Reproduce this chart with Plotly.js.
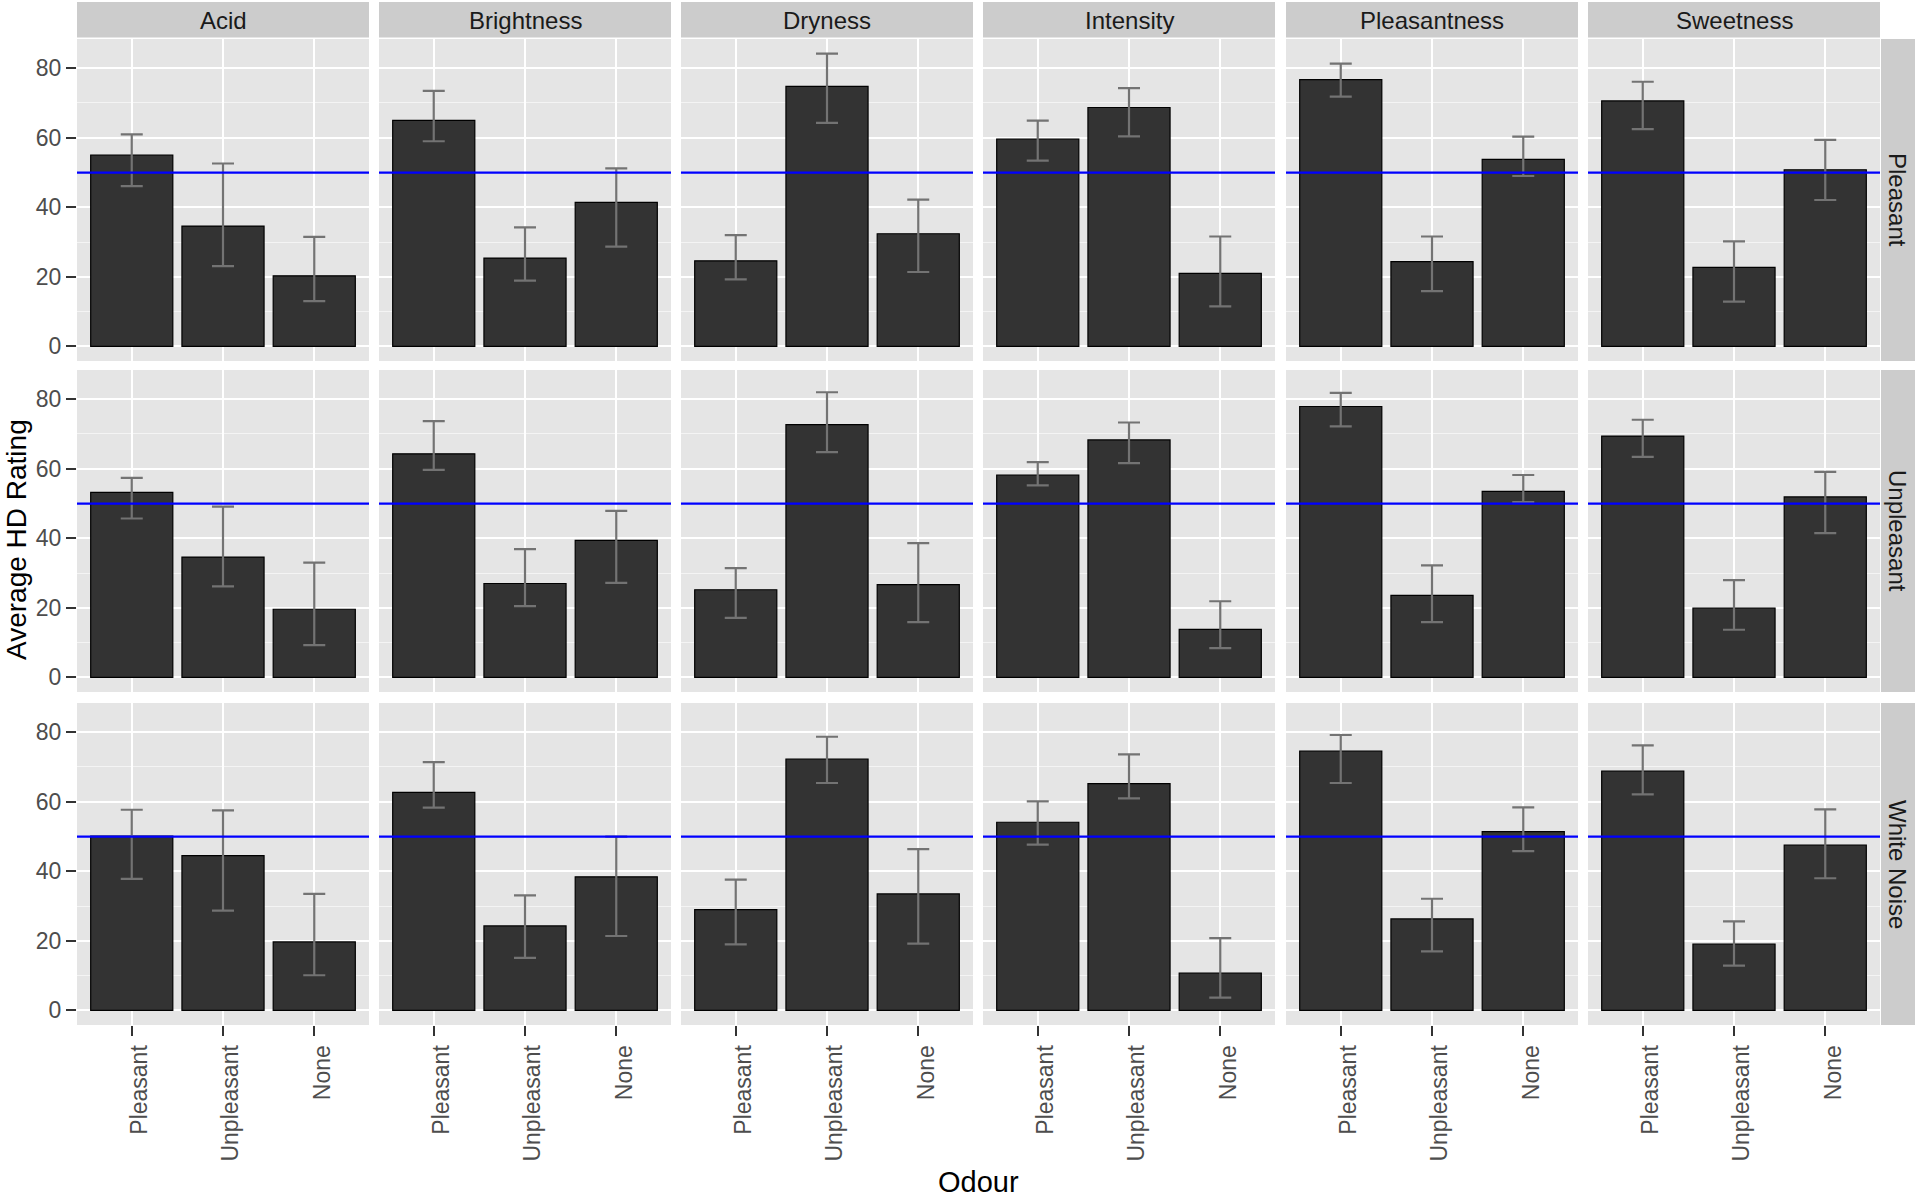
<!DOCTYPE html>
<html>
<head>
<meta charset="utf-8">
<script src="https://cdn.plot.ly/plotly-3.0.1.min.js"></script>
<style>
  html, body { margin: 0; padding: 0; background: white; }
  #plot { width: 1918px; height: 1198px; }
</style>
</head>
<body>
<div id="plot"></div>
<script>
const attributes = ["Acid", "Brightness", "Dryness", "Intensity", "Pleasantness", "Sweetness"];
const sounds = ["Pleasant", "Unpleasant", "White Noise"];
const odours = ["Pleasant", "Unpleasant", "None"];

// mean rating per attribute, one triplet per odour (Pleasant, Unpleasant, None)
const meanPleasantSound = [
  [55.0, 34.6, 20.3], [65.0, 25.4, 41.4], [24.6, 74.8, 32.4],
  [59.6, 68.7, 21.0], [76.7, 24.4, 53.8], [70.6, 22.7, 50.8]
];
const lowPleasantSound = [
  [46.1, 23.1, 13.0], [59.0, 18.9, 28.7], [19.3, 64.3, 21.4],
  [53.4, 60.4, 11.5], [71.8, 15.9, 49.0], [62.5, 12.9, 42.1]
];
const highPleasantSound = [
  [61.0, 52.6, 31.5], [73.5, 34.2, 51.2], [32.0, 84.2, 42.2],
  [64.9, 74.3, 31.6], [81.3, 31.6, 60.3], [76.1, 30.2, 59.4]
];

const meanUnpleasantSound = [
  [53.2, 34.6, 19.6], [64.3, 27.0, 39.4], [25.2, 72.7, 26.7],
  [58.2, 68.3, 13.8], [77.9, 23.6, 53.5], [69.4, 19.9, 51.9]
];
const lowUnpleasantSound = [
  [45.7, 26.2, 9.3], [59.7, 20.5, 27.2], [17.1, 64.8, 15.9],
  [55.2, 61.6, 8.4], [72.2, 15.9, 50.4], [63.4, 13.7, 41.5]
];
const highUnpleasantSound = [
  [57.4, 49.1, 33.0], [73.7, 36.9, 47.9], [31.4, 82.0, 38.6],
  [61.9, 73.3, 21.9], [81.8, 32.2, 58.2], [74.1, 28.0, 59.1]
];

const meanWhiteNoise = [
  [50.1, 44.5, 19.7], [62.7, 24.3, 38.4], [29.0, 72.3, 33.5],
  [54.1, 65.2, 10.7], [74.6, 26.3, 51.4], [68.8, 19.1, 47.5]
];
const lowWhiteNoise = [
  [37.8, 28.7, 10.1], [58.3, 15.1, 21.4], [19.0, 65.4, 19.2],
  [47.7, 61.0, 3.7], [65.4, 17.0, 45.8], [62.1, 12.9, 38.0]
];
const highWhiteNoise = [
  [57.7, 57.5, 33.5], [71.4, 33.1, 50.0], [37.6, 78.7, 46.4],
  [60.1, 73.6, 20.8], [79.2, 32.1, 58.4], [76.2, 25.6, 57.8]
];

const refLine = 50;

const means = [meanPleasantSound, meanUnpleasantSound, meanWhiteNoise];
const lows = [lowPleasantSound, lowUnpleasantSound, lowWhiteNoise];
const highs = [highPleasantSound, highUnpleasantSound, highWhiteNoise];

const W = 1918, H = 1198;
const fx = (px) => px / W;
const fy = (py) => 1 - py / H;

// panel geometry in pixels
const colLeft = [77, 379, 681, 983, 1286, 1588];
const colWidth = 292;
const rowTop = [39, 370, 703];
const rowHeight = 322;

const FONT = "Liberation Sans, Arial, sans-serif";

const traces = [];
const layout = {
  width: W,
  height: H,
  autosize: false,
  margin: { l: 0, r: 0, t: 0, b: 0 },
  paper_bgcolor: "white",
  plot_bgcolor: "#e5e5e5",
  showlegend: false,
  font: { family: FONT, size: 23, color: "#4d4d4d" },
  shapes: [],
  annotations: [],
};

for (let r = 0; r < sounds.length; r++) {
  for (let c = 0; c < attributes.length; c++) {
    const n = r * attributes.length + c + 1;
    const xa = "x" + (n === 1 ? "" : n);
    const ya = "y" + (n === 1 ? "" : n);
    const m = means[r][c];
    const lo = lows[r][c];
    const hi = highs[r][c];

    traces.push({
      type: "bar",
      x: odours,
      y: m,
      width: 0.9,
      xaxis: xa,
      yaxis: ya,
      marker: { color: "#333333", line: { color: "black", width: 1.2 } },
      error_y: {
        type: "data",
        symmetric: false,
        array: hi.map((v, i) => v - m[i]),
        arrayminus: m.map((v, i) => v - lo[i]),
        color: "#737373",
        thickness: 2.2,
        width: 11,
      },
      hoverinfo: "y",
    });

    const bottomRow = r === sounds.length - 1;
    const firstCol = c === 0;

    layout["xaxis" + (n === 1 ? "" : n)] = {
      domain: [fx(colLeft[c]), fx(colLeft[c] + colWidth)],
      anchor: ya,
      type: "category",
      categoryorder: "array",
      categoryarray: odours,
      range: [-0.6, 2.6],
      showgrid: true,
      gridcolor: "white",
      gridwidth: 2,
      zeroline: false,
      showline: false,
      showticklabels: bottomRow,
      ticks: bottomRow ? "outside" : "",
      ticklen: 10,
      tickwidth: 2,
      tickcolor: "#333333",
      tickangle: -90,
      ticklabelshift: 8,
      tickfont: { family: FONT, size: 23, color: "#4d4d4d" },
      fixedrange: true,
    };

    layout["yaxis" + (n === 1 ? "" : n)] = {
      domain: [fy(rowTop[r] + rowHeight), fy(rowTop[r])],
      anchor: xa,
      range: [-4.2, 88.4],
      tick0: 0,
      dtick: 20,
      showgrid: true,
      gridcolor: "white",
      gridwidth: 2,
      minor: { dtick: 10, tick0: 0, showgrid: true, gridcolor: "#f4f4f4", gridwidth: 1, ticks: "" },
      zeroline: false,
      showline: false,
      showticklabels: firstCol,
      ticks: firstCol ? "outside" : "",
      ticklen: 10,
      tickwidth: 2,
      tickcolor: "#333333",
      tickfont: { family: FONT, size: 23, color: "#4d4d4d" },
      fixedrange: true,
    };

    // reference line at 50
    layout.shapes.push({
      type: "line",
      xref: xa + " domain",
      yref: ya,
      x0: 0,
      x1: 1,
      y0: refLine,
      y1: refLine,
      line: { color: "#0000ff", width: 2.2 },
      layer: "above",
    });
  }
}

// column strips
for (let c = 0; c < attributes.length; c++) {
  layout.shapes.push({
    type: "rect",
    xref: "paper",
    yref: "paper",
    x0: fx(colLeft[c]),
    x1: fx(colLeft[c] + colWidth),
    y0: fy(37.5),
    y1: fy(2),
    fillcolor: "#cccccc",
    line: { width: 0 },
    layer: "below",
  });
  layout.annotations.push({
    xref: "paper",
    yref: "paper",
    x: fx(colLeft[c] + colWidth / 2),
    y: fy(20),
    text: attributes[c],
    showarrow: false,
    xanchor: "center",
    yanchor: "middle",
    font: { family: FONT, size: 24, color: "#1a1a1a" },
  });
}

// row strips
for (let r = 0; r < sounds.length; r++) {
  layout.shapes.push({
    type: "rect",
    xref: "paper",
    yref: "paper",
    x0: fx(1881),
    x1: fx(1915),
    y0: fy(rowTop[r] + rowHeight),
    y1: fy(rowTop[r]),
    fillcolor: "#cccccc",
    line: { width: 0 },
    layer: "below",
  });
  layout.annotations.push({
    xref: "paper",
    yref: "paper",
    x: fx(1898),
    y: fy(rowTop[r] + rowHeight / 2),
    text: sounds[r],
    textangle: 90,
    showarrow: false,
    xanchor: "center",
    yanchor: "middle",
    font: { family: FONT, size: 24, color: "#1a1a1a" },
  });
}

// axis titles
layout.annotations.push({
  xref: "paper",
  yref: "paper",
  x: fx(16),
  y: fy(540),
  text: "Average HD Rating",
  textangle: -90,
  showarrow: false,
  xanchor: "center",
  yanchor: "middle",
  font: { family: FONT, size: 28, color: "black" },
});
layout.annotations.push({
  xref: "paper",
  yref: "paper",
  x: fx(978),
  y: fy(1182),
  text: "Odour",
  showarrow: false,
  xanchor: "center",
  yanchor: "middle",
  font: { family: FONT, size: 29, color: "black" },
});

Plotly.newPlot("plot", traces, layout, { displayModeBar: false, staticPlot: true });
</script>
</body>
</html>
